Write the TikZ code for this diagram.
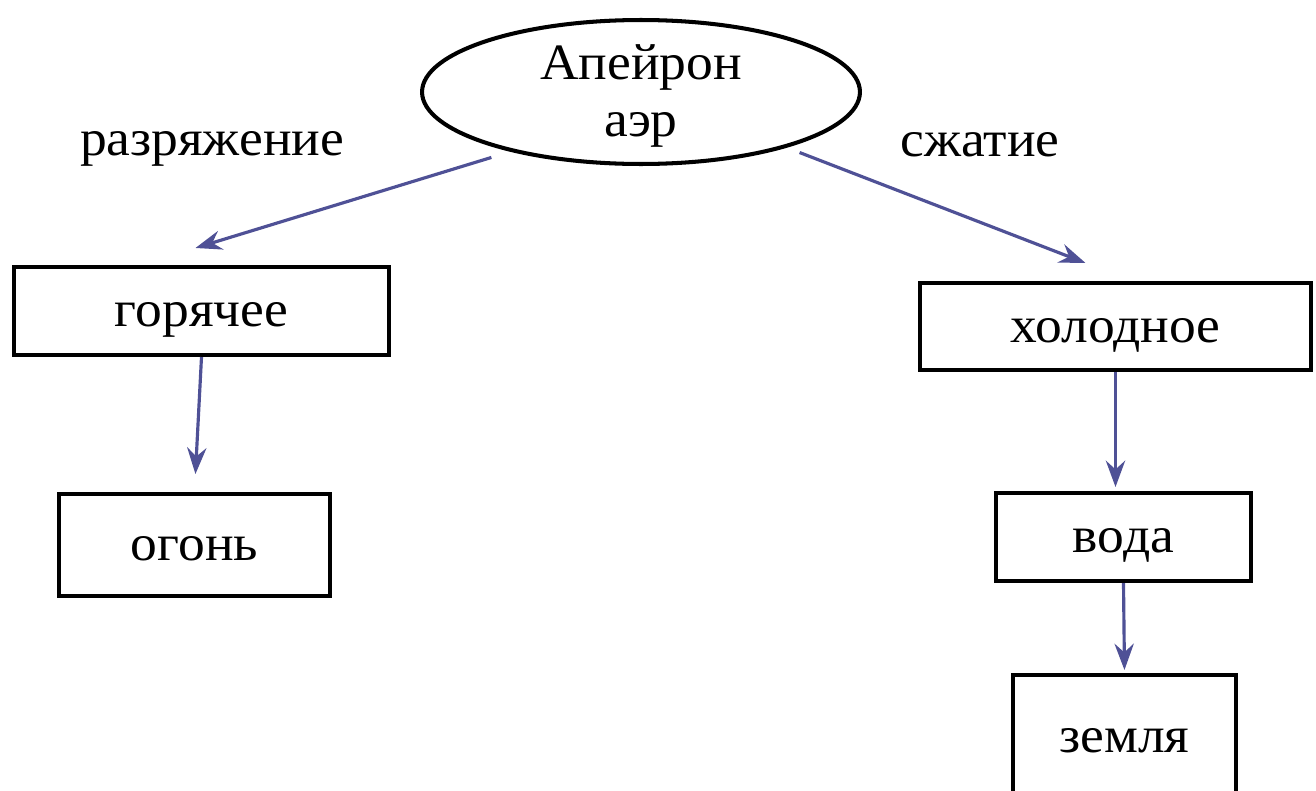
\documentclass[tikz,border=0pt]{standalone}
\usepackage{fontspec}
\setmainfont{Liberation Serif}[FakeStretch=1.05]
\usepackage{xcolor}
\usetikzlibrary{shapes.geometric,arrows.meta,calc}
\definecolor{arrowblue}{HTML}{4F5196}
\newcommand*{\xMax}{1316}
\newcommand*{\yMax}{791}

\begin{document}
\begin{tikzpicture}[x=0.02cm,y=-0.02cm,
    every node/.style={font=\fontsize{29}{32.5}\selectfont},
    elbox/.style={draw,line width=2.3pt,inner sep=0pt,text height=18.2pt,text depth=0pt},
    arr/.style={draw=arrowblue,line width=1.8pt,-{Stealth[length=15pt,width=11pt,inset=5pt]}}]
    \useasboundingbox (0,0) rectangle (\xMax,\yMax);

    \node [ellipse,draw,line width=2.3pt,minimum width=8.76cm,minimum height=2.88cm,align=center,
      inner xsep=0pt,inner ysep=2pt,text height=52.5pt,text depth=1.3pt] (apeiron) at (641,92) {Апейрон\\аэр};
    \node [anchor=base] (razr) at (212,155) {разряжение};
    \node [anchor=base] (szhat) at (980,156) {сжатие};

    \node [elbox,minimum width=7.5cm,minimum height=1.76cm] (goryachee) at (201.5,311) {горячее};
    \node [elbox,minimum width=7.82cm,minimum height=1.74cm] (holodnoe) at (1115.5,326.5) {холодное};
    \node [elbox,minimum width=5.42cm,minimum height=2.04cm] (ogon) at (194.5,545) {огонь};
    \node [elbox,minimum width=5.1cm,minimum height=1.76cm] (voda) at (1123.5,537) {вода};
    \node [elbox,minimum width=4.46cm,minimum height=2.48cm] (zemlya) at (1124.5,737) {земля};

    \draw [arr] ($(apeiron.200)+(0,11)$) -- ($(goryachee.north)+(-6,-17)$);
    \draw [arr] ($(apeiron.342)+(0,9)$) -- ($(holodnoe.north)+(-30,-18)$);
    \draw [arr,shorten >=0.36cm] (goryachee.south) -- (ogon.north);
    \draw [arr,shorten >=0.08cm] (holodnoe.south) -- (holodnoe.south |- voda.north);
    \draw [arr,shorten >=0.06cm] (voda.south) -- (zemlya.north);
  \end{tikzpicture}
\end{document}
